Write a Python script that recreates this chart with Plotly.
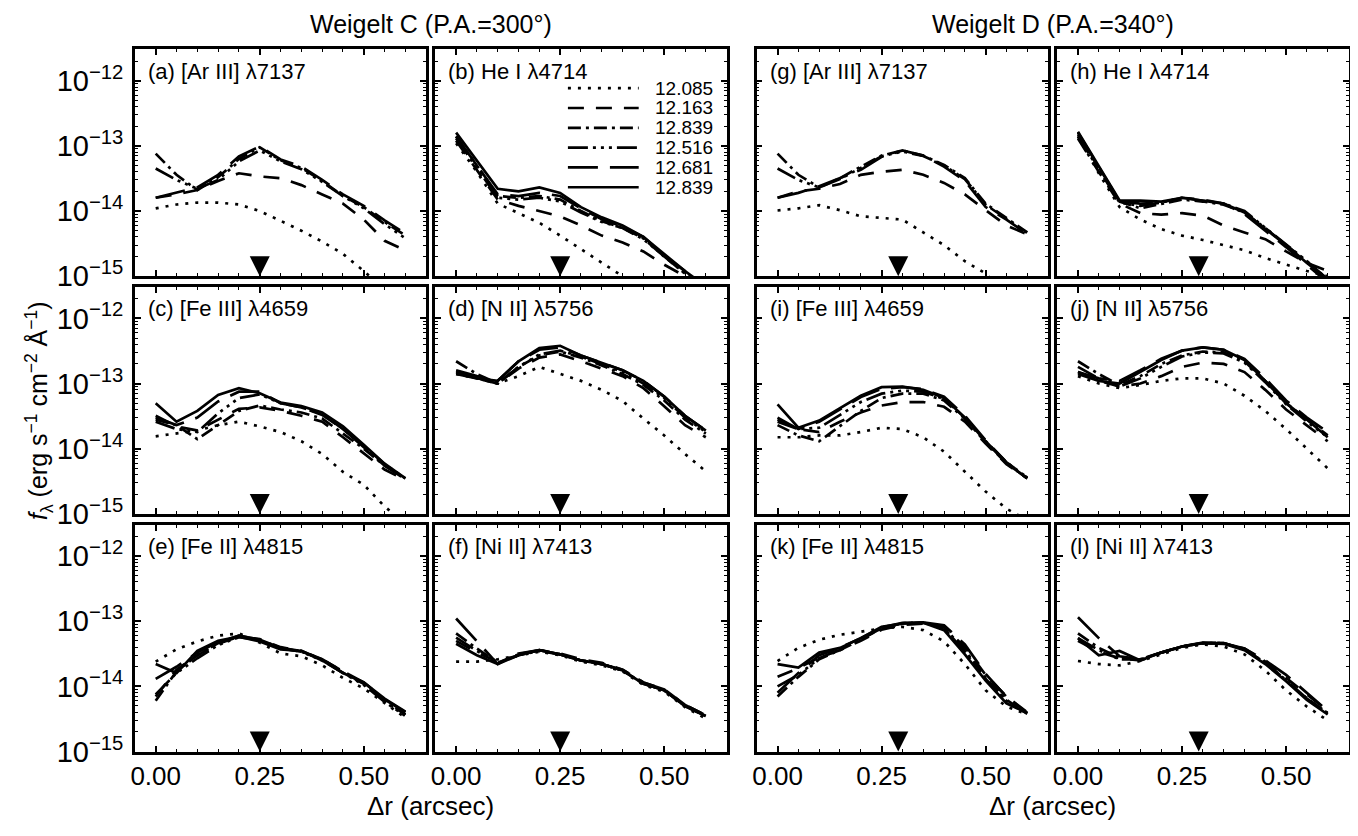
import plotly.graph_objects as go

# ---------------- data ----------------
offsets = [0.00, 0.05, 0.10, 0.15, 0.20, 0.25, 0.30, 0.35, 0.40, 0.45, 0.50, 0.55, 0.60]
epochs = ["12.085", "12.163", "12.839", "12.516", "12.681", "12.839"]
knot_C = 0.25
knot_D = 0.29
flux_unit = 1e-14   # values below are in units of 1e-14 erg s-1 cm-2 A-1

# order of series inside every panel: epochs[0..5]
ArIII_C = [
    [1.1, 1.26, 1.35, 1.35, 1.26, 1.0, 0.71, 0.5, 0.34, 0.22, 0.12, 0.063, 0.032],
    [1.6, 1.8, 2.1, 2.9, 3.8, 3.4, 3.2, 2.5, 1.8, 1.3, 0.74, 0.35, 0.25],
    [7.6, 3.6, 2.1, 3.3, 6.3, 9.5, 6.0, 4.6, 2.9, 1.7, 1.15, 0.68, 0.42],
    [4.5, 3.0, 2.2, 3.0, 5.8, 8.5, 5.8, 4.4, 2.8, 1.7, 1.1, 0.63, 0.38],
    [1.6, 1.9, 2.3, 3.6, 6.9, 9.8, 6.2, 4.8, 3.0, 1.8, 1.2, 0.72, 0.45],
    None,
]
HeI_C = [
    [11, 4.0, 1.3, 0.93, 0.66, 0.42, 0.26, 0.16, 0.1, 0.065, 0.045, 0.03, 0.02],
    [12, 4.2, 1.5, 1.2, 1.0, 0.83, 0.6, 0.42, 0.33, 0.24, 0.15, 0.1, 0.07],
    [14, 5.0, 1.7, 1.6, 1.7, 1.5, 1.0, 0.7, 0.55, 0.38, 0.2, 0.11, 0.07],
    [13, 4.6, 1.6, 1.5, 1.6, 1.4, 0.95, 0.68, 0.55, 0.37, 0.2, 0.11, 0.07],
    [14, 5.0, 1.8, 1.7, 1.9, 1.7, 1.1, 0.75, 0.58, 0.4, 0.21, 0.12, 0.07],
    [16, 6.0, 2.2, 2.0, 2.3, 1.9, 1.15, 0.8, 0.6, 0.4, 0.22, 0.12, 0.07],
]
FeIII_C = [
    [1.55, 1.7, 1.9, 2.3, 2.6, 2.2, 1.8, 1.3, 0.83, 0.44, 0.28, 0.13, 0.07],
    [3.2, 2.2, 1.9, 2.8, 4.1, 4.3, 3.8, 3.2, 2.6, 1.5, 0.85, 0.48, 0.33],
    [2.8, 2.3, 1.4, 2.3, 3.8, 4.6, 4.0, 3.6, 2.9, 1.7, 1.0, 0.55, 0.35],
    [2.6, 2.0, 1.8, 3.5, 6.0, 6.8, 5.0, 4.3, 3.4, 2.0, 1.1, 0.58, 0.35],
    [3.0, 2.3, 3.0, 5.3, 7.5, 7.5, 5.0, 4.3, 3.3, 2.0, 1.05, 0.55, 0.34],
    [5.0, 2.6, 3.8, 6.7, 8.5, 7.1, 5.1, 4.5, 3.6, 2.2, 1.15, 0.59, 0.35],
]
NII_C = [
    [14, 12, 10, 13, 18, 14, 11, 8.0, 5.4, 2.9, 1.6, 0.83, 0.45],
    [15, 12, 10, 17, 25, 28, 22, 17, 13, 8.5, 4.5, 2.3, 1.5],
    [22, 14, 10, 18, 27, 31, 25, 19, 14, 9.5, 5.5, 2.8, 1.7],
    [14, 12, 10, 18, 28, 32, 26, 20, 15, 10, 6.0, 3.0, 1.8],
    [16, 13, 11, 22, 33, 36, 27, 21, 16, 11, 6.3, 3.2, 1.9],
    [15, 12, 11, 22, 35, 38, 27, 21, 16, 11, 6.3, 3.2, 1.9],
]
FeII_C = [
    [2.4, 3.7, 4.9, 6.0, 6.5, 4.7, 3.2, 2.9, 2.1, 1.35, 0.93, 0.55, 0.33],
    [0.7, 1.8, 3.0, 4.5, 5.8, 5.3, 4.0, 3.5, 2.6, 1.7, 1.1, 0.6, 0.37],
    [0.6, 1.7, 3.0, 4.6, 6.0, 5.2, 3.9, 3.4, 2.6, 1.6, 1.1, 0.6, 0.37],
    [0.75, 1.6, 2.7, 4.3, 5.7, 5.1, 3.8, 3.4, 2.5, 1.6, 1.05, 0.58, 0.35],
    [1.3, 2.0, 3.3, 4.8, 6.0, 5.2, 3.9, 3.5, 2.6, 1.7, 1.15, 0.63, 0.4],
    [2.2, 1.6, 3.5, 5.0, 5.8, 4.9, 3.7, 3.5, 2.5, 1.6, 1.15, 0.65, 0.41],
]
NiII_C = [
    [2.4, 2.4, 2.6, 3.0, 3.4, 3.0, 2.4, 2.1, 1.7, 1.05, 0.83, 0.48, 0.32],
    [5.0, 3.3, 2.4, 3.0, 3.6, 3.2, 2.6, 2.3, 1.8, 1.15, 0.9, 0.52, 0.36],
    [6.5, 3.8, 2.3, 3.1, 3.6, 3.1, 2.5, 2.2, 1.75, 1.1, 0.87, 0.5, 0.35],
    [5.6, 3.5, 2.3, 3.0, 3.5, 3.1, 2.5, 2.2, 1.75, 1.1, 0.87, 0.5, 0.35],
    [11, 5.0, 2.2, 3.2, 3.6, 3.1, 2.5, 2.2, 1.8, 1.15, 0.9, 0.52, 0.36],
    [4.5, 3.0, 2.2, 3.0, 3.6, 3.1, 2.5, 2.2, 1.75, 1.1, 0.87, 0.5, 0.35],
]
ArIII_D = [
    [1.02, 1.1, 1.23, 1.03, 0.83, 0.78, 0.74, 0.47, 0.3, 0.17, 0.11, 0.05, 0.025],
    [1.6, 2.0, 2.2, 2.6, 3.6, 4.0, 4.3, 3.6, 2.7, 1.8, 1.03, 0.6, 0.44],
    [7.6, 3.6, 2.3, 3.2, 4.8, 7.1, 8.5, 7.1, 5.1, 3.2, 1.3, 0.78, 0.47],
    [4.5, 3.0, 2.3, 3.1, 4.6, 6.9, 8.2, 7.0, 5.0, 3.1, 1.25, 0.76, 0.46],
    [1.6, 1.9, 2.4, 3.2, 4.3, 6.8, 8.5, 7.1, 4.8, 2.9, 1.15, 0.74, 0.44],
    None,
]
HeI_D = [
    [14, 3.8, 1.15, 0.74, 0.53, 0.42, 0.36, 0.3, 0.25, 0.19, 0.15, 0.12, 0.1],
    [13, 4.0, 1.3, 0.93, 0.88, 0.93, 0.85, 0.6, 0.47, 0.37, 0.24, 0.16, 0.12],
    [15, 4.5, 1.4, 1.1, 1.3, 1.5, 1.4, 1.25, 0.95, 0.55, 0.3, 0.17, 0.09],
    [14, 4.4, 1.35, 1.2, 1.35, 1.6, 1.45, 1.3, 1.0, 0.56, 0.31, 0.17, 0.09],
    [16, 4.8, 1.4, 1.3, 1.35, 1.6, 1.5, 1.3, 0.9, 0.5, 0.28, 0.15, 0.08],
    [16.5, 5.0, 1.45, 1.45, 1.4, 1.6, 1.45, 1.3, 0.95, 0.53, 0.3, 0.16, 0.09],
]
FeIII_D = [
    [1.5, 1.5, 1.6, 1.6, 1.8, 2.1, 2.0, 1.5, 0.9, 0.45, 0.22, 0.12, 0.08],
    [2.8, 2.0, 1.8, 2.6, 3.6, 4.6, 5.2, 5.2, 4.4, 2.6, 1.2, 0.58, 0.35],
    [2.3, 1.6, 1.3, 2.2, 3.8, 6.0, 7.0, 7.0, 5.5, 2.9, 1.25, 0.6, 0.35],
    [2.6, 2.0, 2.1, 3.3, 5.2, 7.0, 7.8, 7.5, 5.8, 3.0, 1.3, 0.62, 0.36],
    [3.0, 2.0, 2.6, 4.0, 6.2, 8.3, 8.8, 8.2, 6.3, 3.2, 1.35, 0.62, 0.36],
    [4.8, 2.1, 2.7, 4.2, 6.5, 8.8, 9.0, 8.0, 6.0, 3.0, 1.3, 0.6, 0.35],
]
NII_D = [
    [13, 10, 8.5, 9.5, 11, 12, 12, 10, 6.5, 3.8, 2.0, 1.0, 0.5],
    [15, 11, 9.0, 10, 13, 18, 21, 20, 15, 8.0, 4.0, 2.3, 1.3],
    [22, 14, 9.5, 13, 20, 27, 31, 30, 22, 11, 5.0, 2.8, 1.6],
    [18, 12, 9.0, 12, 18, 26, 30, 29, 21, 10.5, 4.8, 2.6, 1.5],
    [15, 12, 11, 16, 24, 32, 36, 33, 24, 12, 5.5, 3.0, 1.8],
    [14, 11, 10, 15, 23, 32, 36, 33, 23, 11, 5.0, 2.8, 1.5],
]
FeII_D = [
    [2.45, 3.9, 5.2, 6.2, 6.9, 7.8, 8.2, 7.3, 4.9, 2.2, 0.87, 0.49, 0.37],
    [1.4, 1.9, 2.8, 3.6, 5.0, 7.4, 8.8, 9.2, 8.2, 4.0, 1.5, 0.7, 0.4],
    [0.7, 1.4, 2.6, 3.6, 5.2, 7.8, 9.3, 9.6, 8.0, 3.6, 1.35, 0.62, 0.38],
    [1.0, 1.5, 2.7, 3.7, 5.3, 7.8, 9.2, 9.5, 7.8, 3.4, 1.3, 0.6, 0.38],
    [0.8, 1.6, 3.0, 3.9, 5.5, 8.0, 9.4, 9.6, 8.7, 4.4, 1.55, 0.69, 0.39],
    [2.2, 1.95, 3.3, 3.9, 5.5, 8.2, 9.2, 9.5, 7.3, 3.1, 1.23, 0.55, 0.39],
]
NiII_D = [
    [2.45, 2.2, 2.1, 2.45, 3.1, 3.9, 4.4, 4.1, 3.1, 1.75, 0.87, 0.49, 0.3],
    [5.0, 3.4, 2.7, 2.5, 3.3, 4.1, 4.6, 4.6, 3.8, 2.4, 1.35, 0.75, 0.42],
    [6.5, 3.9, 2.75, 2.6, 3.3, 4.1, 4.6, 4.6, 3.7, 2.3, 1.25, 0.65, 0.39],
    [5.5, 3.6, 2.6, 2.6, 3.3, 4.1, 4.6, 4.6, 3.7, 2.3, 1.25, 0.65, 0.39],
    [11.5, 5.5, 2.9, 2.6, 3.3, 4.1, 4.7, 4.6, 3.8, 2.5, 1.5, 0.8, 0.42],
    [5.5, 3.0, 3.5, 2.5, 3.3, 4.1, 4.6, 4.5, 3.6, 2.2, 1.2, 0.62, 0.37],
]

panel_labels = [
    ["(a) [Ar III] λ7137", "(b) He I λ4714", "(g) [Ar III] λ7137", "(h) He I λ4714"],
    ["(c) [Fe III] λ4659", "(d) [N II] λ5756", "(i) [Fe III] λ4659", "(j) [N II] λ5756"],
    ["(e) [Fe II] λ4815", "(f) [Ni II] λ7413", "(k) [Fe II] λ4815", "(l) [Ni II] λ7413"],
]
panel_data = [
    [ArIII_C, HeI_C, ArIII_D, HeI_D],
    [FeIII_C, NII_C, FeIII_D, NII_D],
    [FeII_C, NiII_C, FeII_D, NiII_D],
]
panel_knot = [knot_C, knot_C, knot_D, knot_D]
group_titles = ["Weigelt C (P.A.=300°)", "Weigelt D (P.A.=340°)"]
x_title = "Δr (arcsec)"
y_title = "<i>f</i><sub>λ</sub> (erg s<sup>−1</sup> cm<sup>−2</sup> Å<sup>−1</sup>)"
y_tickvals = [1e-15, 1e-14, 1e-13, 1e-12]
y_ticktext = ["10<sup>−15</sup>", "10<sup>−14</sup>", "10<sup>−13</sup>", "10<sup>−12</sup>"]
x_tickvals = [0.0, 0.25, 0.5]
x_ticktext = ["0.00", "0.25", "0.50"]

# ---------------- style / layout ----------------
W, H = 1358, 836
FONT = "Liberation Sans, Arial, Helvetica, sans-serif"
col_px = [(122.0, 416.7), (423.3, 718.0), (745.7, 1040.4), (1047.0, 1341.7)]
row_px = [(41.0, 274.7), (283.3, 517.0), (525.6, 759.3)]
X_RANGE = [-0.05, 0.65]
Y_RANGE_LOG = [-15, -11.52]
dashes = ["3px,7px", "16px,12px", "13px,5px,3px,5px",
          "20px,5px,3px,5px,3px,5px,3px,5px", "30px,12px", "solid"]
LW = 2.7
FRAME_W = 2.5
INSET = FRAME_W / 2    # plotly draws frame lines just outside the domain
LABEL_DX = 11          # px from panel left edge to label start
LABEL_DY = 22          # px from panel top to label centre


def px_x(p):
    return p / W


def px_y(p):
    return 1 - p / H


fig = go.Figure()
layout = dict(
    width=W, height=H, margin=dict(l=0, r=0, t=0, b=0),
    paper_bgcolor="white", plot_bgcolor="white", showlegend=False,
    font=dict(family=FONT, color="black"),
)
annotations = []
shapes = []

for r in range(3):
    for c in range(4):
        idx = r * 4 + c + 1
        sfx = "" if idx == 1 else str(idx)
        xn, yn = "x" + sfx, "y" + sfx
        data = panel_data[r][c]
        for s, series in enumerate(data):
            if series is None:
                continue
            fig.add_trace(go.Scatter(
                x=offsets, y=[v * flux_unit for v in series], mode="lines",
                line=dict(color="black", width=LW, dash=dashes[s]),
                name=epochs[s], xaxis=xn, yaxis=yn, hoverinfo="skip"))
        # knot position marker
        fig.add_trace(go.Scatter(
            x=[panel_knot[c]], y=[10 ** Y_RANGE_LOG[0]], mode="markers",
            marker=dict(symbol="arrow-down", size=20, color="black"),
            xaxis=xn, yaxis=yn, cliponaxis=False, hoverinfo="skip"))

        x0, x1 = col_px[c][0] + INSET, col_px[c][1] - INSET
        y0, y1 = row_px[r][0] + INSET, row_px[r][1] - INSET
        layout["xaxis" + sfx] = dict(
            domain=[px_x(x0), px_x(x1)], range=X_RANGE, anchor=yn,
            tickmode="array", tickvals=x_tickvals, ticktext=x_ticktext,
            showticklabels=(r == 2), ticks="inside", ticklen=6, tickwidth=1.5,
            tickcolor="black",
            minor=dict(ticks="inside", tick0=0, dtick=0.05, ticklen=3,
                       tickwidth=1.2, tickcolor="black", showgrid=False),
            mirror="allticks", showline=True, linewidth=FRAME_W, linecolor="black",
            showgrid=False, zeroline=False,
            tickfont=dict(size=26, family=FONT, color="black"))
        layout["yaxis" + sfx] = dict(
            domain=[px_y(y1), px_y(y0)], type="log", range=Y_RANGE_LOG,
            anchor=xn, tickmode="array", tickvals=y_tickvals,
            ticktext=y_ticktext, showticklabels=(c == 0),
            ticks="inside", ticklen=6, tickwidth=1.5, tickcolor="black",
            minor=dict(ticks="inside", dtick="D1", ticklen=3, tickwidth=1.0,
                       tickcolor="black", showgrid=False),
            mirror="allticks", showline=True, linewidth=FRAME_W, linecolor="black",
            showgrid=False, zeroline=False, ticklabelstandoff=3,
            tickfont=dict(size=29, family=FONT, color="black"))
        annotations.append(dict(
            text=panel_labels[r][c], xref=xn + " domain", yref=yn + " domain",
            x=LABEL_DX / (x1 - x0), y=1 - LABEL_DY / (y1 - y0),
            xanchor="left", yanchor="middle", showarrow=False,
            font=dict(size=22, family=FONT, color="black")))

# legend drawn inside panel (b)
bx0, bx1 = col_px[1][0] + INSET, col_px[1][1] - INSET
by0, by1 = row_px[0][0] + INSET, row_px[0][1] - INSET
bw, bh = bx1 - bx0, by1 - by0
leg_x0 = 133 / bw
leg_x1 = 204 / bw
leg_xt = 218 / bw
for s, lab in enumerate(epochs):
    dy = 39.5 + s * 20.2          # px below panel top
    yd = 1 - dy / bh
    shapes.append(dict(type="line", xref="x2 domain", yref="y2 domain",
                       x0=leg_x0, x1=leg_x1, y0=yd, y1=yd,
                       line=dict(color="black", width=LW, dash=dashes[s])))
    annotations.append(dict(text=lab, xref="x2 domain", yref="y2 domain",
                            x=leg_xt, y=yd, xanchor="left", yanchor="middle",
                            showarrow=False,
                            font=dict(size=19, family=FONT, color="black")))

# group titles and x titles
for g in range(2):
    cx = px_x((col_px[2 * g][0] + col_px[2 * g + 1][1]) / 2)
    annotations.append(dict(text=group_titles[g], xref="paper", yref="paper",
                            x=cx, y=px_y(0), xanchor="center", yanchor="top",
                            showarrow=False,
                            font=dict(size=25, family=FONT, color="black")))
    annotations.append(dict(text=x_title, xref="paper", yref="paper",
                            x=cx, y=px_y(814), xanchor="center", yanchor="middle",
                            showarrow=False,
                            font=dict(size=26, family=FONT, color="black")))
annotations.append(dict(text=y_title, xref="paper", yref="paper",
                        x=px_x(27), y=px_y(410), xanchor="center", yanchor="middle",
                        textangle=-90, showarrow=False,
                        font=dict(size=25, family=FONT, color="black")))

layout["annotations"] = annotations
layout["shapes"] = shapes
fig.update_layout(**layout)
fig.write_html("out.html")
